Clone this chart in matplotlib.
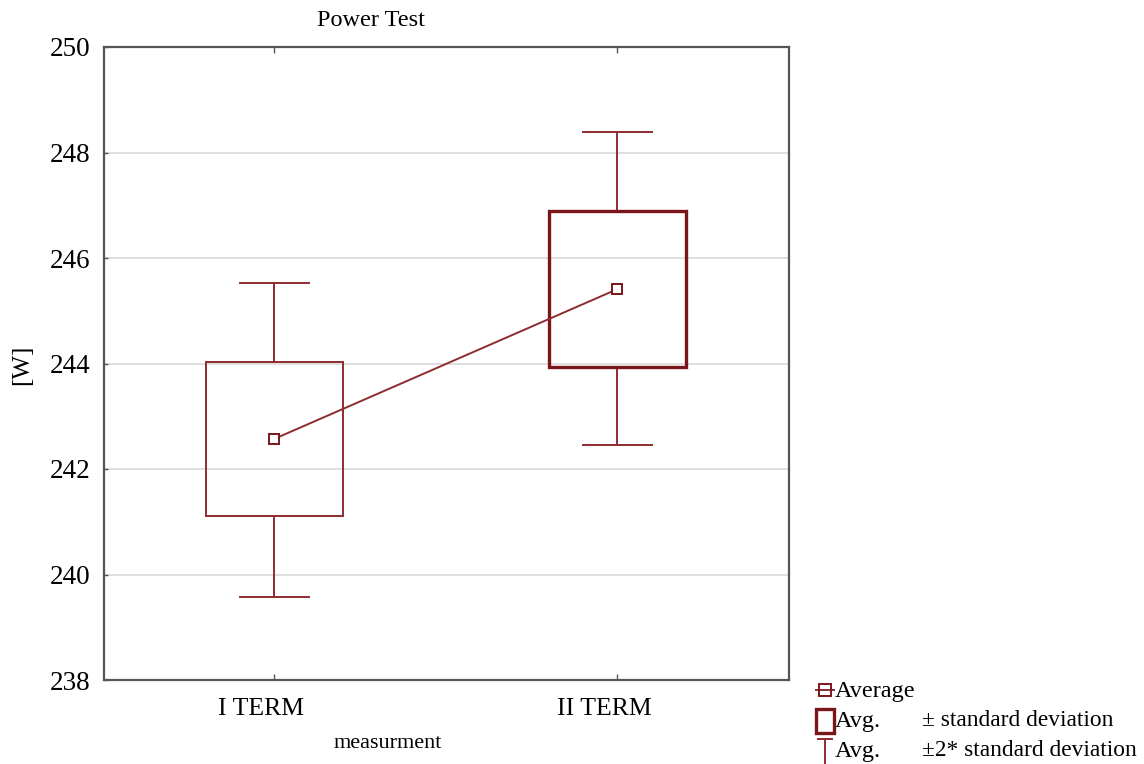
import matplotlib
matplotlib.use("Agg")
import matplotlib.pyplot as plt
import matplotlib.transforms as mtransforms
from matplotlib.patches import Rectangle
import numpy as np

plt.rcParams['font.family'] = ['Liberation Serif', 'DejaVu Serif']

# data
terms = ['I TERM', 'II TERM']
mean_w = [242.57, 245.41]
sd_low = [241.11, 243.93]
sd_high = [244.03, 246.89]
sd2_low = [239.57, 242.45]
sd2_high = [245.53, 248.39]

box_colors = ['#8e2b30', '#7a1519']
box_widths = [1.4, 2.4]
red = '#8e2b30'

fig = plt.figure(figsize=(11.44, 7.64), dpi=100)
ax = fig.add_axes([104 / 1144, 84 / 764, 685 / 1144, 633 / 764])

x = np.arange(1, len(terms) + 1)

for i, xi in enumerate(x):
    # +-2 sd whiskers
    ax.plot([xi, xi], [sd_high[i], sd2_high[i]], color=red, lw=1.4, zorder=3)
    ax.plot([xi, xi], [sd2_low[i], sd_low[i]], color=red, lw=1.4, zorder=3)
    ax.plot([xi - 0.1, xi + 0.1], [sd2_high[i], sd2_high[i]], color=red, lw=1.4, zorder=3)
    ax.plot([xi - 0.1, xi + 0.1], [sd2_low[i], sd2_low[i]], color=red, lw=1.4, zorder=3)
    # +-1 sd box
    ax.add_patch(Rectangle((xi - 0.2, sd_low[i]), 0.4, sd_high[i] - sd_low[i],
                           fill=False, edgecolor=box_colors[i], lw=box_widths[i], zorder=3))

ax.plot(x, mean_w, color=red, lw=1.4, marker='s', markersize=7,
        markerfacecolor='white', markeredgecolor='#7a1519', markeredgewidth=1.4, zorder=4)

ax.set_xlim(0.504, 2.5)
ax.set_ylim(238, 250)
ax.set_yticks([238, 240, 242, 244, 246, 248, 250])
ax.set_xticks(x)
ax.set_xticklabels(terms, fontsize=18.5)
ax.tick_params(axis='y', labelsize=19.5, direction='in', length=3, width=1, color='#555555', pad=10)
ax.tick_params(axis='x', direction='in', length=4, width=1, color='#555555', top=True, pad=13)
# category labels sit a little left of their ticks in the reference
shift = mtransforms.ScaledTranslation(-13 / 100, 0, fig.dpi_scale_trans)
for lab in ax.get_xticklabels():
    lab.set_transform(lab.get_transform() + shift)
ax.yaxis.grid(True, color='#d9d9d9', lw=1.2)
ax.set_axisbelow(True)
for s in ax.spines.values():
    s.set_color('#555555')
    s.set_linewidth(1.6)

ax.set_ylabel('[W]', fontsize=18)
ax.yaxis.set_label_coords(-0.103, 0.498)
fig.text(371 / 1144, 1 - 20 / 764, 'Power Test', fontsize=17.5, ha='center', va='center')
fig.text(388 / 1144, 1 - 743 / 764, 'measurment', fontsize=16, ha='center', va='center')

# legend, drawn by hand in pixel space
lg = fig.add_axes([0, 0, 1, 1], zorder=10)
lg.set_xlim(0, 1144)
lg.set_ylim(764, 0)
lg.axis('off')
lg.plot([816, 834], [690, 690], color=red, lw=1.4)
lg.plot([825], [690], marker='s', markersize=8, markerfacecolor='none',
        markeredgecolor='#7a1519', markeredgewidth=1.4)
lg.add_patch(Rectangle((816, 709), 18, 24, fill=False, edgecolor='#7a1519', lw=2.4))
lg.plot([818, 832], [739, 739], color=red, lw=1.4)
lg.plot([825, 825], [739, 764], color=red, lw=1.4)
lg.text(835, 692, 'Average', fontsize=17.5, va='center')
lg.text(835, 721, 'Avg.', fontsize=17.5, va='center')
lg.text(922, 721, '\u00b1 standard deviation', fontsize=16.8, va='center')
lg.text(835, 751, 'Avg.', fontsize=17.5, va='center')
lg.text(922, 751, '\u00b12* standard deviation', fontsize=16.8, va='center')

fig.savefig('out.png', dpi=100)
